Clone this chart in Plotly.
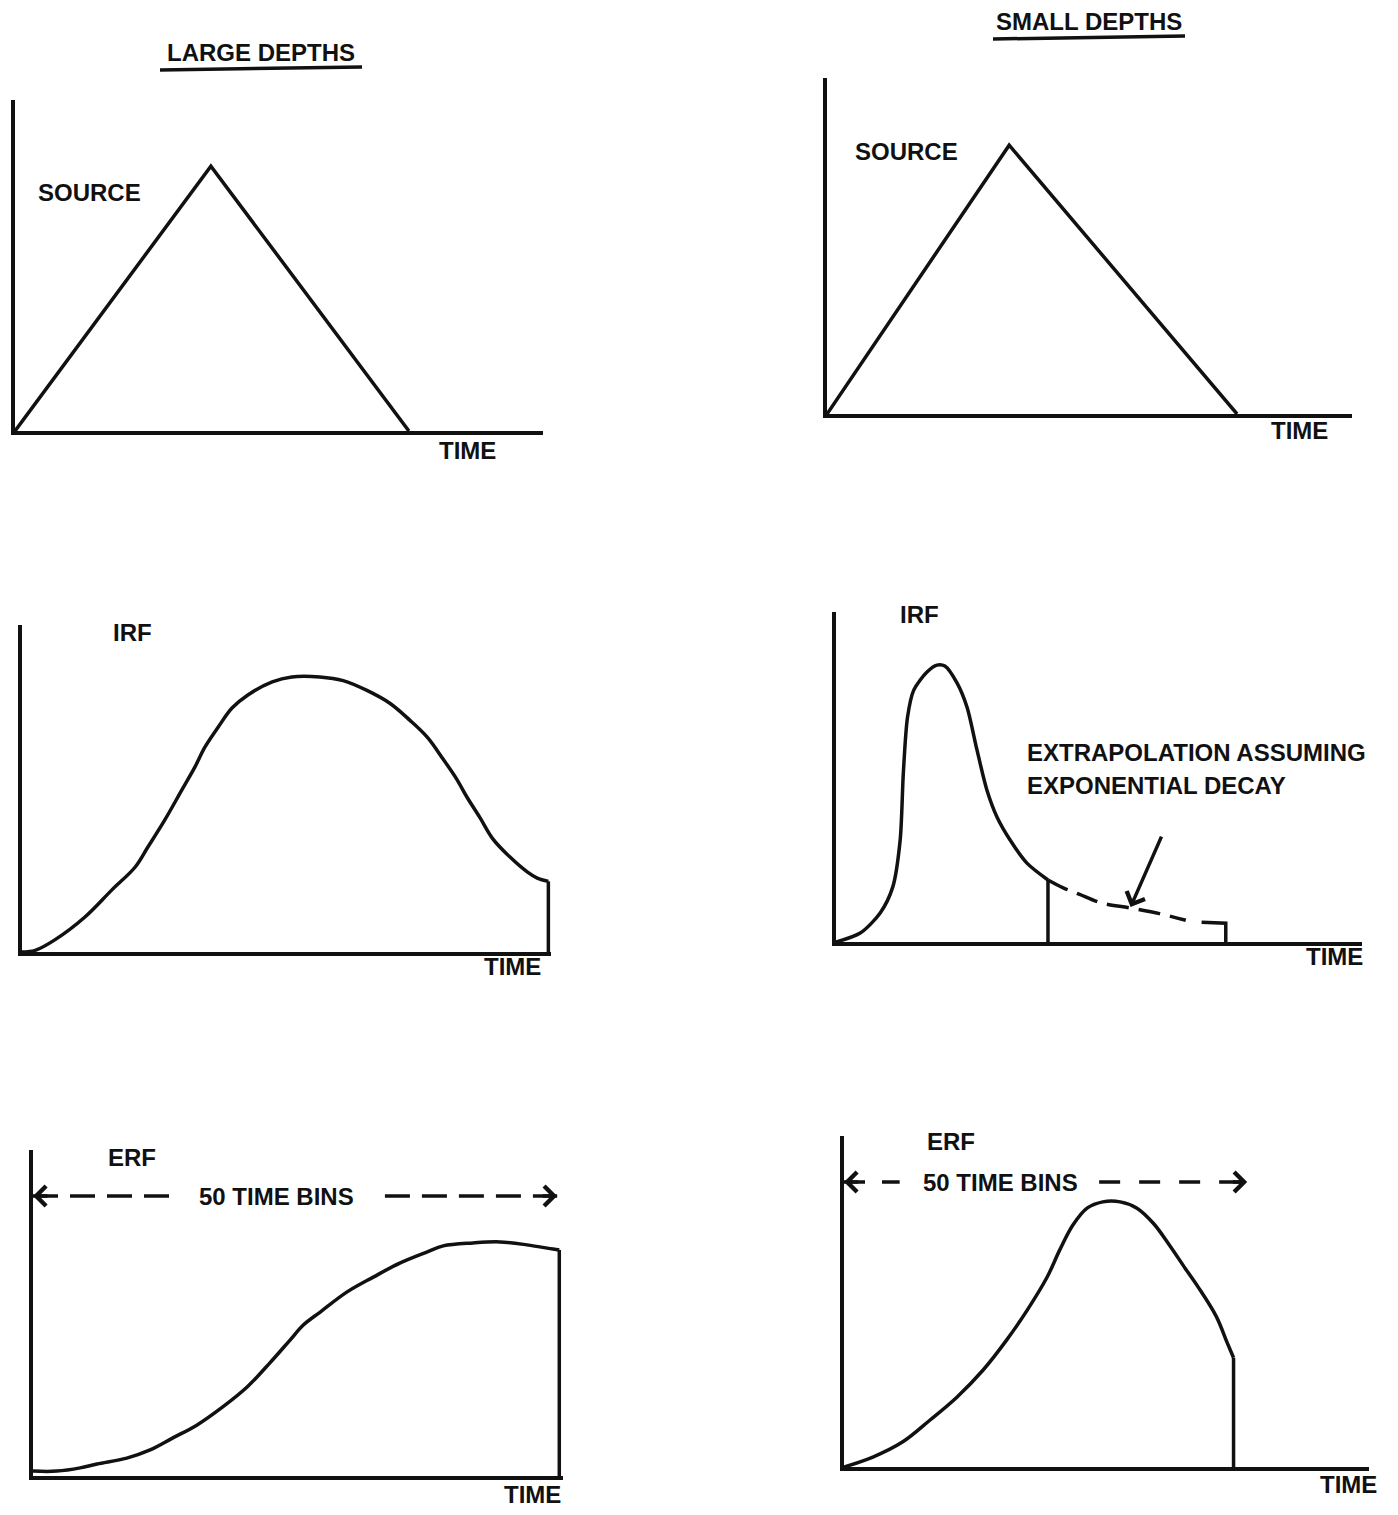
import plotly.graph_objects as go

W, H = 1398, 1515
OFF = 8                      # browser page margin around the figure
FW, FH = W - 2 * OFF, H - 2 * OFF

# ---------------- data (time and amplitude in percent of each panel's axes) ----------------
source_large_t = [0, 37.1, 74.6]
source_large_a = [0, 80.0, 0]

source_small_t = [0, 34.7, 78.1]
source_small_a = [0, 80.0, 0]

irf_large_t = [0, 2.5, 6.2, 11.9, 17.0, 21.4, 23.8, 27.0, 30.2, 32.7, 34.6, 37.1, 39.7,
               42.7, 47.3, 51.0, 56.3, 60.7, 65.2, 69.6, 73.3, 76.6, 79.6, 82.2, 84.1,
               86.6, 89.0, 92.2, 95.5, 97.4, 99.5]
irf_large_a = [0, 0.5, 3.7, 10.7, 19.0, 26.0, 32.1, 40.4, 49.5, 56.6, 62.7, 68.8, 74.6,
               78.6, 82.6, 84.1, 84.1, 83.0, 80.0, 76.0, 70.9, 65.7, 59.0, 52.8, 47.4,
               41.0, 34.6, 29.1, 24.5, 22.6, 21.6]
irf_large_drop_t = [99.5, 99.5]
irf_large_drop_a = [21.6, 0]

irf_small_t = [0, 4.6, 8.4, 10.8, 12.2, 12.8, 13.6, 14.8, 17.3, 19.2, 20.7, 23.0, 24.9,
               26.8, 28.7, 30.6, 33.1, 36.3, 40.3]
irf_small_a = [0, 2.7, 8.8, 16.7, 30.9, 51.2, 68.2, 76.4, 81.8, 83.9, 83.6, 78.5, 71.2,
               58.2, 46.0, 37.9, 30.9, 23.9, 18.8]
irf_small_drop_t = [40.3, 40.3]
irf_small_drop_a = [18.8, 0]

extrap_t = [40.3, 43.2, 46.2, 50.3, 55.9, 61.5, 66.5]
extrap_a = [18.8, 16.4, 14.5, 11.9, 10.3, 8.6, 6.6]
extrap_end_t = [69.5, 74.1, 74.1]
extrap_end_a = [6.0, 5.7, 0]

erf_large_t = [0, 4.5, 8.9, 12.1, 17.7, 22.1, 26.4, 30.9, 35.8, 40.4, 44.7, 48.5, 51.0,
               54.2, 59.2, 64.2, 69.2, 74.3, 77.4, 83.0, 88.1, 93.2, 98.1, 99.3]
erf_large_a = [1.5, 1.5, 2.5, 3.7, 5.5, 8.0, 11.7, 15.6, 21.2, 27.3, 34.7, 41.7, 46.3,
               50.3, 56.4, 61.0, 65.3, 68.7, 70.6, 71.5, 71.8, 70.9, 69.6, 69.3]
erf_large_drop_t = [99.3, 99.3]
erf_large_drop_a = [69.3, 0]

erf_small_t = [0, 5.5, 11.2, 16.4, 21.5, 26.5, 31.0, 34.9, 38.7, 41.1, 43.6, 46.3, 49.3,
               52.6, 55.8, 59.0, 62.0, 65.0, 67.4, 70.9, 73.0, 74.2]
erf_small_a = [0, 3.0, 7.6, 14.2, 21.1, 29.3, 38.4, 47.4, 57.4, 65.6, 73.1, 78.2, 80.1,
               80.1, 78.2, 73.5, 67.0, 60.0, 54.5, 45.5, 37.5, 33.0]
erf_small_drop_t = [74.2, 74.2]
erf_small_drop_a = [33.0, 0]

# "50 TIME BINS" span arrows: dashed pieces (left, right) and level
bins_large_left = [0, 26.8]
bins_large_right = [66.4, 98.9]
bins_large_level = 85.9
bins_small_left = [0, 10.6]
bins_small_right = [48.6, 76.8]
bins_small_level = 86.1

# pointer for the extrapolation label (tail -> tip)
pointer_t = [62.0, 56.0]
pointer_a = [32.4, 10.6]

# ---------------- layout geometry (pixel boxes of each panel's axes) ----------------
# (x at y-axis, x at end of time axis, y of time axis, y of top of amplitude axis)
boxes = {
    1: (15, 543, 431, 100),
    2: (827, 1352, 414, 78),
    3: (22, 551, 952, 625),
    4: (836, 1362, 942, 612),
    5: (33, 563, 1476, 1150),
    6: (844, 1369, 1467, 1136),
}

INK = "#111111"
FONT = dict(family="Liberation Sans, Arial, sans-serif", size=24, color=INK, weight="bold")
LW = 3.5

fig = go.Figure()


def ax_name(i, letter):
    return letter if i == 1 else f"{letter}{i}"


def add_line(i, t, a, dash="solid", smooth=0.0):
    line = dict(color=INK, width=LW, dash=dash)
    if smooth:
        line.update(shape="spline", smoothing=smooth)
    fig.add_trace(go.Scatter(
        x=t, y=a, mode="lines", xaxis=ax_name(i, "x"), yaxis=ax_name(i, "y"),
        line=line, hoverinfo="skip", showlegend=False))


add_line(1, source_large_t, source_large_a)
add_line(2, source_small_t, source_small_a)
add_line(3, irf_large_t, irf_large_a, smooth=1.0)
add_line(3, irf_large_drop_t, irf_large_drop_a)
add_line(4, irf_small_t, irf_small_a, smooth=0.8)
add_line(4, irf_small_drop_t, irf_small_drop_a)
add_line(4, extrap_t, extrap_a, dash="22px,10px", smooth=1.0)
add_line(4, extrap_end_t, extrap_end_a)
add_line(5, erf_large_t, erf_large_a, smooth=1.0)
add_line(5, erf_large_drop_t, erf_large_drop_a)
add_line(6, erf_small_t, erf_small_a, smooth=1.0)
add_line(6, erf_small_drop_t, erf_small_drop_a)

add_line(5, bins_large_left, [bins_large_level] * 2, dash="25px,12px")
add_line(5, bins_large_right, [bins_large_level] * 2, dash="25px,12px")
add_line(6, bins_small_left, [bins_small_level] * 2, dash="21px,17px")
add_line(6, bins_small_right, [bins_small_level] * 2, dash="21px,19px")


def PX(x):
    return (x - OFF) / FW


def PY(y):
    return 1 - (y - OFF) / FH


layout = dict(
    width=FW, height=FH, margin=dict(l=0, r=0, t=0, b=0),
    paper_bgcolor="white", plot_bgcolor="rgba(0,0,0,0)", showlegend=False,
)

for i, (x0, x1, yb, yt) in boxes.items():
    xd = [PX(x0), PX(x1)]
    yd = [PY(yb), PY(yt)]
    common = dict(showline=True, linecolor=INK, linewidth=LW, showgrid=False,
                  zeroline=False, showticklabels=False, ticks="", range=[0, 100],
                  fixedrange=True)
    layout["xaxis" if i == 1 else f"xaxis{i}"] = dict(domain=xd, anchor=ax_name(i, "y"), **common)
    layout["yaxis" if i == 1 else f"yaxis{i}"] = dict(domain=yd, anchor=ax_name(i, "x"), **common)

fig.update_layout(**layout)

annotations = []


def label(text, x, y, xanchor="center"):
    annotations.append(dict(text=text, x=PX(x), y=PY(y), xref="paper", yref="paper",
                            showarrow=False, xanchor=xanchor, yanchor="middle", font=FONT))


label("LARGE DEPTHS", 261, 53)
label("SMALL DEPTHS", 1089, 22)
label("SOURCE", 89, 193)
label("SOURCE", 906, 151)
label("TIME", 467, 450)
label("TIME", 1299, 430)
label("IRF", 132, 632)
label("IRF", 919, 614)
label("TIME", 512, 967)
label("TIME", 1334, 957)
label("EXTRAPOLATION ASSUMING", 1025, 752, xanchor="left")
label("EXPONENTIAL DECAY", 1025, 785, xanchor="left")
label("ERF", 132, 1157)
label("ERF", 951, 1141)
label("50 TIME BINS", 276, 1196)
label("50 TIME BINS", 1000, 1182)
label("TIME", 532, 1494)
label("TIME", 1348, 1484)


def chevron(i, tip_t, tip_a, tail_t, tail_a):
    annotations.append(dict(
        text="", x=tip_t, y=tip_a, ax=tail_t, ay=tail_a,
        xref=ax_name(i, "x"), yref=ax_name(i, "y"),
        axref=ax_name(i, "x"), ayref=ax_name(i, "y"),
        showarrow=True, arrowhead=4, arrowsize=1.1, arrowwidth=LW,
        arrowcolor=INK, standoff=0))


chevron(5, bins_large_left[0], bins_large_level, bins_large_left[0] + 3, bins_large_level)
chevron(5, bins_large_right[1], bins_large_level, bins_large_right[1] - 3, bins_large_level)
chevron(6, bins_small_left[0], bins_small_level, bins_small_left[0] + 3, bins_small_level)
chevron(6, bins_small_right[1], bins_small_level, bins_small_right[1] - 3, bins_small_level)
chevron(4, pointer_t[1], pointer_a[1], pointer_t[0], pointer_a[0])

fig.update_layout(annotations=annotations)

# title underlines
fig.add_shape(type="line", xref="paper", yref="paper",
              x0=PX(160), y0=PY(70), x1=PX(362), y1=PY(67),
              line=dict(color=INK, width=LW))
fig.add_shape(type="line", xref="paper", yref="paper",
              x0=PX(993), y0=PY(39), x1=PX(1185), y1=PY(36),
              line=dict(color=INK, width=LW))

fig.write_html("out.html")
